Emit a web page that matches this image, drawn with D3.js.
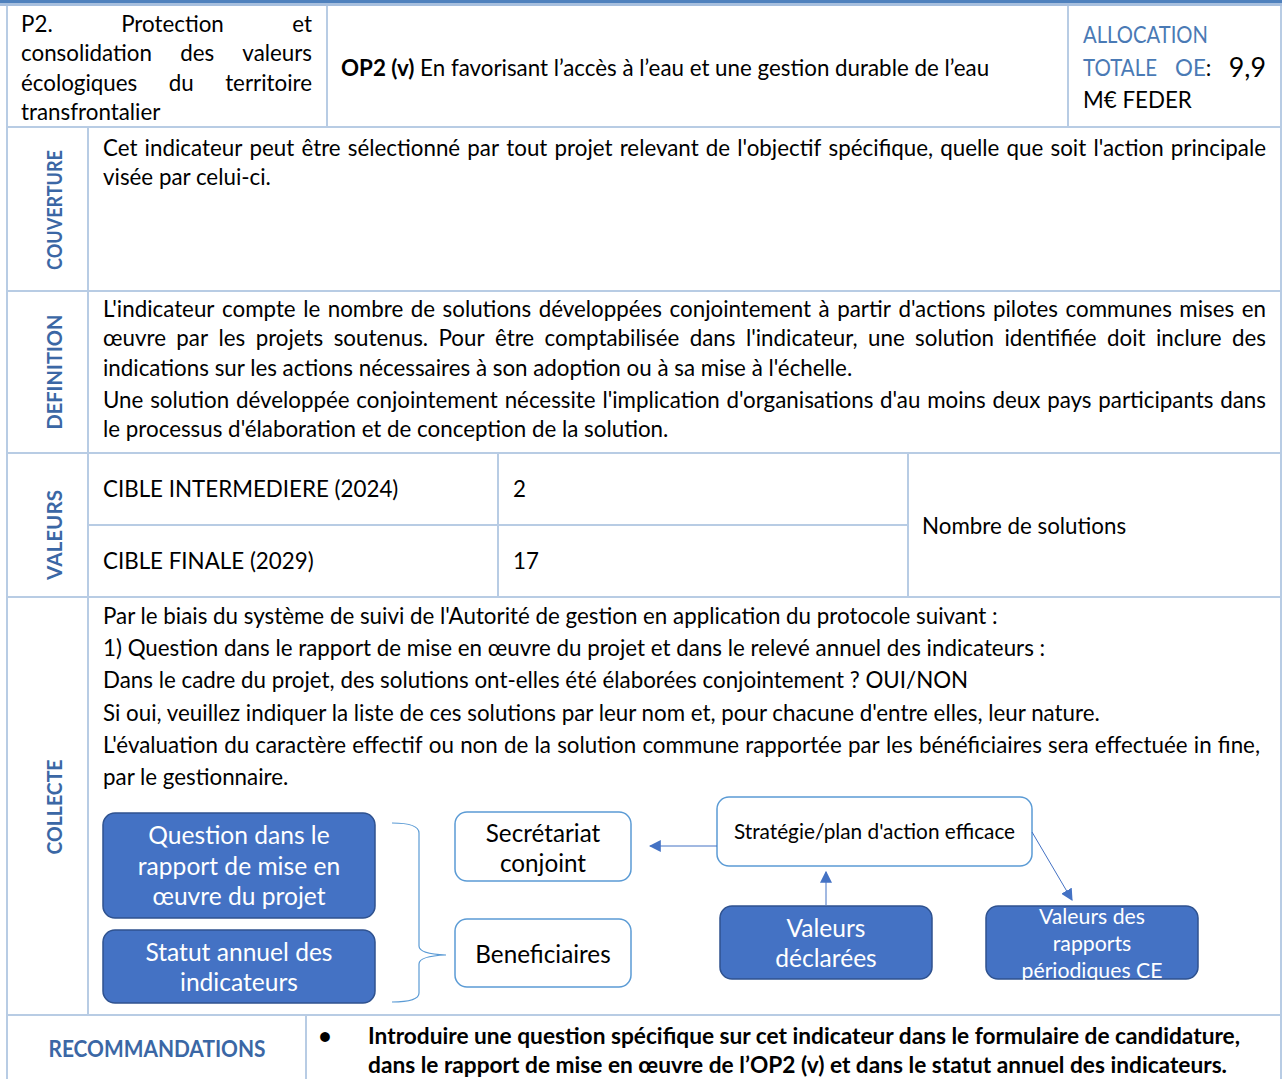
<!DOCTYPE html>
<html><head><meta charset="utf-8">
<script src="https://cdn.jsdelivr.net/npm/d3@7"></script>
<style>html,body{margin:0;padding:0;background:#fff;overflow:hidden}</style>
</head><body>
<svg id="c" width="1282" height="1079"></svg>
<script>
// ---------------- DATA ----------------
const headerTitle = [
  {t:"P2. Protection et", j:true},
  {t:"consolidation des valeurs", j:true},
  {t:"écologiques du territoire", j:true},
  {t:"transfrontalier", j:false}
];
const objectiveCode = "OP2 (v)";
const objectiveText = " En favorisant l’accès à l’eau et une gestion durable de l’eau";
const allocationLabel = ["ALLOCATION", "TOTALE", "OE"];
const allocationValue = "9,9";
const allocationUnit = "M€ FEDER";
const sectionLabels = ["COUVERTURE", "DEFINITION", "VALEURS", "COLLECTE"];
const couvertureLines = [
  {t:"Cet indicateur peut être sélectionné par tout projet relevant de l'objectif spécifique, quelle que soit l'action principale", j:true, p:false},
  {t:"visée par celui-ci.", j:false, p:false}
];
const definitionLines = [
  {t:"L'indicateur compte le nombre de solutions développées conjointement à partir d'actions pilotes communes mises en", j:true, p:false},
  {t:"œuvre par les projets soutenus. Pour être comptabilisée dans l'indicateur, une solution identifiée doit inclure des", j:true, p:false},
  {t:"indications sur les actions nécessaires à son adoption ou à sa mise à l'échelle.", j:false, p:false},
  {t:"Une solution développée conjointement nécessite l'implication d'organisations d'au moins deux pays participants dans", j:true, p:true},
  {t:"le processus d'élaboration et de conception de la solution.", j:false, p:false}
];
const valeursLabels = ["CIBLE INTERMEDIERE (2024)", "CIBLE FINALE (2029)"];
const valeursTargets = [2, 17];
const valeursUnit = "Nombre de solutions";
const collecteLines = [
  {t:"Par le biais du système de suivi de l'Autorité de gestion en application du protocole suivant :", j:false},
  {t:"1) Question dans le rapport de mise en œuvre du projet et dans le relevé annuel des indicateurs :", j:false},
  {t:"Dans le cadre du projet, des solutions ont-elles été élaborées conjointement ? OUI/NON", j:false},
  {t:"Si oui, veuillez indiquer la liste de ces solutions par leur nom et, pour chacune d'entre elles, leur nature.", j:false},
  {t:"L'évaluation du caractère effectif ou non de la solution commune rapportée par les bénéficiaires sera effectuée in fine,", j:true},
  {t:"par le gestionnaire.", j:false}
];
const diagramSources = [["Question dans le", "rapport de mise en", "œuvre du projet"], ["Statut annuel des", "indicateurs"]];
const diagramActors = [["Secrétariat", "conjoint"], ["Beneficiaires"]];
const diagramStrategy = ["Stratégie/plan d'action efficace"];
const diagramOutputs = [["Valeurs", "déclarées"], ["Valeurs des", "rapports", "périodiques CE"]];
const recommandationLabel = "RECOMMANDATIONS";
const recommandationLines = [
  "Introduire une question spécifique sur cet indicateur dans le formulaire de candidature,",
  "dans le rapport de mise en œuvre de l’OP2 (v) et dans le statut annuel des indicateurs."
];

// ---------------- SETUP ----------------
const FONT = "Lato, 'Open Sans', 'DejaVu Sans', sans-serif";
const GRID = "#b8cce4";
const BLUE_LBL = "#3b67a5";
const BLUE_ALLOC = "#4a7ab5";
const BOX_FILL = "#4472c4";
const BOX_STROKE = "#2f528f";
const BOX_LIGHT = "#5b9bd5";

const svg = d3.select("#c");
const meas = svg.append("text").attr("x", -2000).attr("y", -2000).style("font-family", FONT);
function measure(str, size, weight) {
  meas.attr("font-size", size).attr("font-weight", weight || 400).text(str);
  return meas.node().getComputedTextLength();
}
// calibrate font size to the reference text width
const k = 895 / measure(collecteLines[0].t, 20, 400);
const fs = s => s * k;

function drawLine(g, str, x, y, size, opt = {}) {
  const width = opt.width || null, weight = opt.weight || 400, fill = opt.fill || "#000", anchor = opt.anchor || "start";
  const t = g.append("text").attr("y", y).attr("font-size", fs(size)).attr("font-weight", weight)
    .attr("fill", fill).style("font-family", FONT);
  if (width) {
    const words = str.split(" ");
    const ws = words.map(w => measure(w, fs(size), weight));
    const gap = (width - d3.sum(ws)) / (words.length - 1);
    let cx = x;
    words.forEach((w, i) => { t.append("tspan").attr("x", cx).text(w); cx += ws[i] + gap; });
  } else {
    t.attr("x", x).attr("text-anchor", anchor).text(str);
  }
  if (opt.fit) t.attr("textLength", opt.fit).attr("lengthAdjust", "spacingAndGlyphs");
  return t;
}

// ---------------- TOP BAR ----------------
svg.append("rect").attr("x", 0).attr("y", 0).attr("width", 1282).attr("height", 3).attr("fill", "#4f81bd");
svg.append("rect").attr("x", 0).attr("y", 3).attr("width", 1282).attr("height", 3).attr("fill", "#a7bfde");

// ---------------- GRID ----------------
const grid = svg.append("g").attr("stroke", GRID).attr("stroke-width", 2);
const hLines = [[7, 1281, 127], [7, 1281, 291], [7, 1281, 453], [88, 908, 525], [7, 1281, 597], [7, 1281, 1015]];
const vLines = [[7, 6, 1079], [1281, 6, 1079], [327, 6, 127], [1068, 6, 127], [88, 127, 1015], [498, 453, 597], [908, 453, 597], [306, 1015, 1079]];
grid.selectAll("line.h").data(hLines).join("line").attr("class", "h")
  .attr("x1", d => d[0]).attr("x2", d => d[1]).attr("y1", d => d[2]).attr("y2", d => d[2]);
grid.selectAll("line.v").data(vLines).join("line").attr("class", "v")
  .attr("x1", d => d[0]).attr("x2", d => d[0]).attr("y1", d => d[1]).attr("y2", d => d[2]);

const txt = svg.append("g");

// ---------------- HEADER ----------------
headerTitle.forEach((l, i) => drawLine(txt, l.t, 21, 32 + i * 29.3, 20, {width: l.j ? 291 : null}));
const op = txt.append("text").attr("x", 341).attr("y", 76).attr("font-size", fs(20)).style("font-family", FONT);
op.append("tspan").attr("font-weight", 700).text(objectiveCode);
op.append("tspan").text(objectiveText);

drawLine(txt, allocationLabel[0], 1083, 43, 20, {fill: BLUE_ALLOC, fit: 125});
drawLine(txt, allocationLabel[1], 1083, 76, 20, {fill: BLUE_ALLOC, fit: 74});
const oe = txt.append("text").attr("x", 1175).attr("y", 76).attr("font-size", fs(20)).style("font-family", FONT);
oe.append("tspan").attr("fill", BLUE_ALLOC).text(allocationLabel[2]);
oe.append("tspan").attr("fill", "#000").text(":");
drawLine(txt, allocationValue, 1266, 77, 24, {anchor: "end"});
drawLine(txt, allocationUnit, 1083, 108, 20);

// ---------------- SECTION LABELS ----------------
const labelCenters = [210, 372, 535, 807];
const labelLengths = [120, 115, 90, 95];
sectionLabels.forEach((s, i) => {
  txt.append("text").attr("transform", `translate(62,${labelCenters[i]}) rotate(-90)`)
    .attr("text-anchor", "middle").attr("font-size", fs(19)).attr("font-weight", 700)
    .attr("textLength", labelLengths[i]).attr("lengthAdjust", "spacingAndGlyphs")
    .attr("fill", BLUE_LBL).style("font-family", FONT).text(s);
});

// ---------------- COUVERTURE ----------------
couvertureLines.forEach((l, i) => drawLine(txt, l.t, 103, 156 + i * 29.3, 20, {width: l.j ? 1163 : null}));

// ---------------- DEFINITION ----------------
let yy = 317;
definitionLines.forEach((l, i) => {
  if (i > 0) yy += l.p ? 32 : 29.3;
  drawLine(txt, l.t, 103, yy, 20, {width: l.j ? 1163 : null});
});

// ---------------- VALEURS ----------------
const rowBase = [497, 569];
valeursLabels.forEach((s, i) => {
  drawLine(txt, s, 103, rowBase[i], 20);
  drawLine(txt, String(valeursTargets[i]), 513, rowBase[i], 20);
});
drawLine(txt, valeursUnit, 922, 534, 20);

// ---------------- COLLECTE ----------------
collecteLines.forEach((l, i) => drawLine(txt, l.t, 103, 624 + i * 32.2, 20, {width: l.j ? 1157 : null}));

// diagram
const dg = svg.append("g");
function box(x, y, w, h, filled, lines, size, lh, cy) {
  dg.append("rect").attr("x", x).attr("y", y).attr("width", w).attr("height", h).attr("rx", 12)
    .attr("fill", filled ? BOX_FILL : "#fff").attr("stroke", filled ? BOX_STROKE : BOX_LIGHT).attr("stroke-width", 1.5);
  const n = lines.length;
  const c0 = cy - (n - 1) * lh / 2;
  lines.forEach((s, i) => {
    dg.append("text").attr("x", x + w / 2).attr("y", c0 + i * lh).attr("dy", "0.36em")
      .attr("text-anchor", "middle").attr("font-size", fs(size)).attr("fill", filled ? "#fff" : "#000")
      .style("font-family", FONT).text(s);
  });
}
box(103, 813, 272, 105, true, diagramSources[0], 22, 30.5, 866);
box(103, 930, 272, 73, true, diagramSources[1], 22, 29.5, 967);
box(455, 812, 176, 69, false, diagramActors[0], 21.7, 30, 848);
box(455, 919, 176, 68, false, diagramActors[1], 21.7, 30, 954);
box(717, 797, 315, 69, false, diagramStrategy, 18.6, 30, 832);
box(720, 906, 212, 73, true, diagramOutputs[0], 22, 30.5, 943);
box(986, 906, 212, 73, true, diagramOutputs[1], 19, 27, 943);

// brace
dg.append("path").attr("fill", "none").attr("stroke", BOX_LIGHT).attr("stroke-width", 1.2)
  .attr("d", "M392,823 Q419,823 419,833 L419,946 Q419,954 446,955 Q419,956 419,964 L419,993 Q419,1002 392,1002");

// arrows
svg.append("defs").append("marker").attr("id", "ah").attr("viewBox", "0 0 10 10")
  .attr("refX", 9).attr("refY", 5).attr("markerWidth", 12).attr("markerHeight", 12)
  .attr("markerUnits", "userSpaceOnUse").attr("orient", "auto")
  .append("path").attr("d", "M0,0 L10,5 L0,10 Z").attr("fill", BOX_FILL);
const arrows = [[717, 846, 650, 846], [826, 905, 826, 872], [1032, 832, 1072, 900]];
dg.selectAll("line.ar").data(arrows).join("line").attr("class", "ar")
  .attr("x1", d => d[0]).attr("y1", d => d[1]).attr("x2", d => d[2]).attr("y2", d => d[3])
  .attr("stroke", BOX_FILL).attr("stroke-width", 1).attr("marker-end", "url(#ah)");

// ---------------- RECOMMANDATIONS ----------------
drawLine(txt, recommandationLabel, 157, 1057, 20, {weight: 700, fill: BLUE_LBL, anchor: "middle", fit: 217});
drawLine(txt, "•", 325, 1044, 20, {weight: 700, anchor: "middle"});
const recFit = [872, 859];
recommandationLines.forEach((s, i) => drawLine(txt, s, 368, 1044 + i * 29, 20, {weight: 700, fit: recFit[i]}));

meas.remove();
</script>
</body></html>
